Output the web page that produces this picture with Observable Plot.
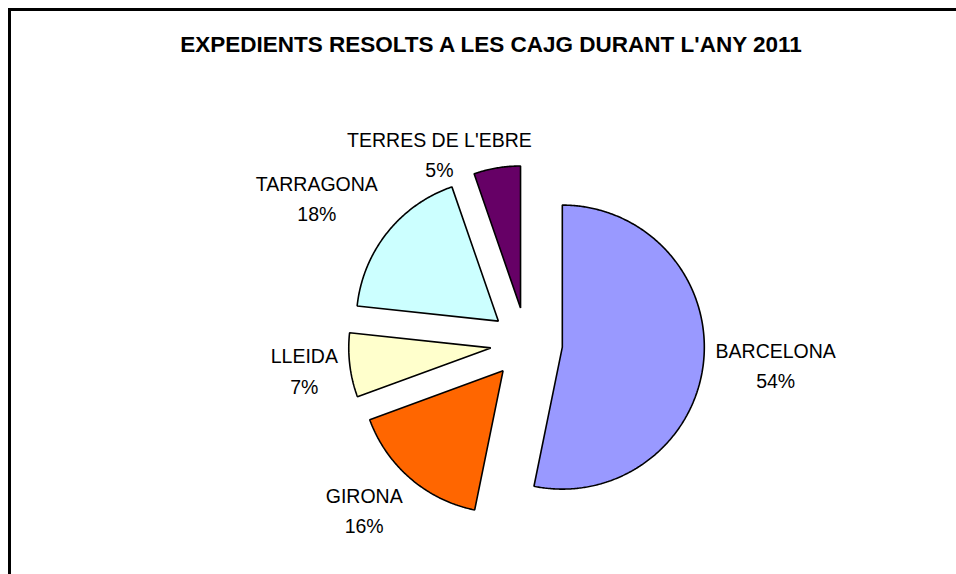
<!DOCTYPE html>
<html>
<head>
<meta charset="utf-8">
<script src="https://cdn.jsdelivr.net/npm/d3@7"></script>
<script src="https://cdn.jsdelivr.net/npm/@observablehq/plot@0.6"></script>
<style>
  html, body { margin: 0; padding: 0; background: #fff; }
  #wrap { position: relative; width: 956px; height: 574px; overflow: hidden; font-family: "Liberation Sans", Arial, sans-serif; }
  #frame { position: absolute; left: 8px; top: 8px; width: 1000px; height: 1000px; border-left: 3px solid #000; border-top: 3px solid #000; pointer-events: none; }
  #title { height: 70px; box-sizing: border-box; padding-top: 34px; padding-left: 26px; text-align: center; font-weight: bold; font-size: 22.5px; line-height: 1; color: #000; white-space: nowrap; }
  #chart svg { display: block; }
</style>
</head>
<body>
<div id="wrap">
  <div id="title">EXPEDIENTS RESOLTS A LES CAJG DURANT L'ANY 2011</div>
  <div id="chart"></div>
  <div id="frame"></div>
</div>
<script>
// ---- data ----
const names = ["BARCELONA", "GIRONA", "LLEIDA", "TARRAGONA", "TERRES DE L'EBRE"];
const shares = [53.2, 16.2, 7.3, 18.0, 5.3];
const pctLabels = ["54%", "16%", "7%", "18%", "5%"];
const colors = ["#9999FF", "#FF6600", "#FFFFCC", "#CCFFFF", "#660066"];

// ---- layout ----
const W = 956, H = 504;
const cx = 526, cy = 273;      // pie centre inside the svg
const R = 142, EXPLODE = 36, PAD = 12;
const FONT = 19.5, LINE = 1.55;
const labelTop = 131 - 70;     // top limit of label boxes (svg coords)
const K = 2;                   // how quickly the label box swings around its anchor
const GAP = 20;                // horizontal clearance when a label is pushed aside

const total = d3.sum(shares);
const toRad = Math.PI / 180;
const dirOf = a => [Math.sin(a * toRad), -Math.cos(a * toRad)];
const clamp1 = v => Math.max(-1, Math.min(1, v));

const canvas = document.createElement("canvas");
const ctx = canvas.getContext("2d");
ctx.font = `${FONT}px "Liberation Sans", Arial, sans-serif`;

const polys = [];
const boundary = [];
const slices = [];
let acc = 0;
names.forEach((name, i) => {
  const a0 = acc / total * 360;
  acc += shares[i];
  const a1 = acc / total * 360;
  const mid = (a0 + a1) / 2;
  const [ex, ey] = dirOf(mid);
  const ox = ex * EXPLODE, oy = ey * EXPLODE;
  const verts = [[ox, oy]];
  const n = Math.max(2, Math.ceil((a1 - a0) / 0.5));
  for (let k = 0; k <= n; k++) {
    const a = a0 + (a1 - a0) * k / n;
    const [dx, dy] = dirOf(a);
    verts.push([ox + dx * R, oy + dy * R]);
  }
  verts.forEach(([x, y]) => polys.push({name, x, y}));
  for (let k = 0; k < verts.length; k++) {
    const [x0, y0] = verts[k], [x1, y1] = verts[(k + 1) % verts.length];
    const steps = Math.max(1, Math.ceil(Math.hypot(x1 - x0, y1 - y0)));
    for (let s = 0; s < steps; s++) boundary.push([x0 + (x1 - x0) * s / steps, y0 + (y1 - y0) * s / steps]);
  }
  slices.push({name, i, ex, ey});
});

function hits(lines, gx) {
  return lines.some(b => boundary.some(([x, y]) =>
    x > b.x0 - gx && x < b.x1 + gx && y > b.y0 - 2 && y < b.y1 + 2));
}

const labels = slices.map(({name, i, ex, ey}) => {
  const w1 = ctx.measureText(name).width, w2 = ctx.measureText(pctLabels[i]).width;
  const w = Math.max(w1, w2);
  const h = FONT * (LINE + 1);
  const D = R + EXPLODE + PAD;
  let lx = ex * D + clamp1(ex * K) * w / 2;
  let ly = ey * D + clamp1(ey * K) * h / 2;
  const minY = labelTop - cy + h / 2;
  if (ly < minY) {
    ly = minY;
    const step = ex > 0 ? 1 : -1;
    const boxes = () => [
      {x0: lx - w1 / 2, x1: lx + w1 / 2, y0: ly - FONT * LINE / 2 - FONT / 2, y1: ly - FONT * LINE / 2 + FONT / 2},
      {x0: lx - w2 / 2, x1: lx + w2 / 2, y0: ly + FONT * LINE / 2 - FONT / 2, y1: ly + FONT * LINE / 2 + FONT / 2}
    ];
    let guard = 0;
    while (hits(boxes(), GAP) && guard++ < 400) lx += step;
  }
  return {name, x: lx, y: ly, text: name + "\n" + pctLabels[i]};
});

const chart = Plot.plot({
  width: W,
  height: H,
  margin: 0,
  style: {fontFamily: '"Liberation Sans", Arial, sans-serif', background: "transparent"},
  x: {domain: [-cx, W - cx], range: [0, W], axis: null},
  y: {domain: [-cy, H - cy], range: [0, H], axis: null},
  color: {domain: names, range: colors},
  marks: [
    Plot.line(polys, {x: "x", y: "y", z: "name", fill: "name", stroke: "#000", strokeWidth: 1.6, strokeLinejoin: "miter", curve: "linear-closed"}),
    Plot.text(labels, {x: "x", y: "y", text: "text", fontSize: FONT, lineHeight: LINE, fill: "#000", textAnchor: "middle", dy: -4})
  ]
});
document.getElementById("chart").appendChild(chart);
</script>
</body>
</html>
